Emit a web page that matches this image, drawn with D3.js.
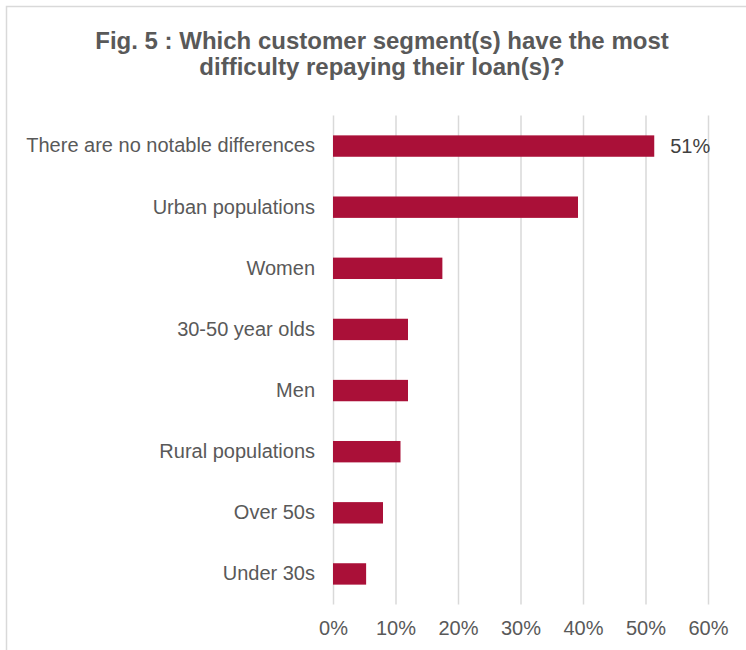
<!DOCTYPE html>
<html>
  <head>
    <script src="https://d3js.org/d3.v7.min.js"></script>
    <style>
      body { margin: 0; background: #fff; }
      text { font-family: "Liberation Sans", Arial, sans-serif; }
      .title { font-size: 24px; font-weight: bold; fill: #595959; }
      .axis text { font-size: 20px; fill: #595959; }
      .label { font-size: 20px; fill: #404040; }
    </style>
  </head>
  <body>
    <div id="chart"></div>
    <script>
      // Data
      const categories = [
        "There are no notable differences",
        "Urban populations",
        "Women",
        "30-50 year olds",
        "Men",
        "Rural populations",
        "Over 50s",
        "Under 30s"
      ];
      const values = [0.514, 0.392, 0.175, 0.12, 0.12, 0.108, 0.08, 0.053];
      const xTicks = [0, 0.1, 0.2, 0.3, 0.4, 0.5, 0.6];
      const shownLabels = ["51%"]; // only the first bar carries a label

      const W = 746, H = 650;
      const plot = { left: 333, right: 708, top: 115.5, bottom: 604.5 };

      const svg = d3.select("#chart").append("svg")
        .attr("width", W)
        .attr("height", H);

      // Chart border (runs off the right/bottom of the view)
      svg.append("rect")
        .attr("x", 6.5).attr("y", 6.5)
        .attr("width", 760).attr("height", 660)
        .attr("fill", "none")
        .attr("stroke", "#d9d9d9")
        .attr("stroke-width", 1.5);

      // Title
      const title = svg.append("text")
        .attr("class", "title")
        .attr("text-anchor", "middle");
      title.append("tspan").attr("x", 382).attr("y", 49)
        .text("Fig. 5 : Which customer segment(s) have the most");
      title.append("tspan").attr("x", 382).attr("y", 75)
        .text("difficulty repaying their loan(s)?");

      // Scales
      const x = d3.scaleLinear().domain([0, 0.6]).range([plot.left, plot.right]);
      const y = d3.scaleBand()
        .domain(categories)
        .range([plot.top, plot.bottom])
        .paddingInner(0.65)
        .paddingOuter(0.325);

      // X axis with gridlines
      const xAxis = svg.append("g")
        .attr("class", "axis")
        .attr("transform", `translate(0, ${plot.bottom})`)
        .call(d3.axisBottom(x)
          .tickValues(xTicks)
          .tickFormat(d3.format(".0%"))
          .tickSize(-(plot.bottom - plot.top))
          .tickPadding(16.3));
      xAxis.select(".domain").remove();
      xAxis.selectAll(".tick line").attr("stroke", "#d9d9d9").attr("stroke-width", 1.5);

      // Y axis (category labels)
      const yAxis = svg.append("g")
        .attr("class", "axis")
        .attr("transform", `translate(${plot.left}, 0)`)
        .call(d3.axisLeft(y).tickSize(0).tickPadding(18));
      yAxis.select(".domain").remove();

      // Bars
      svg.selectAll(".bar")
        .data(categories)
        .enter()
        .append("rect")
        .attr("class", "bar")
        .attr("x", x(0))
        .attr("y", (d) => y(d))
        .attr("width", (d, i) => x(values[i]) - x(0))
        .attr("height", y.bandwidth())
        .attr("fill", "#aa1038");

      // Data label
      svg.selectAll(".label")
        .data(shownLabels)
        .enter()
        .append("text")
        .attr("class", "label")
        .attr("x", (d, i) => x(values[i]) + 16)
        .attr("y", (d, i) => y(categories[i]) + y.bandwidth() / 2)
        .attr("dy", "0.35em")
        .text((d) => d);
    </script>
  </body>
</html>
